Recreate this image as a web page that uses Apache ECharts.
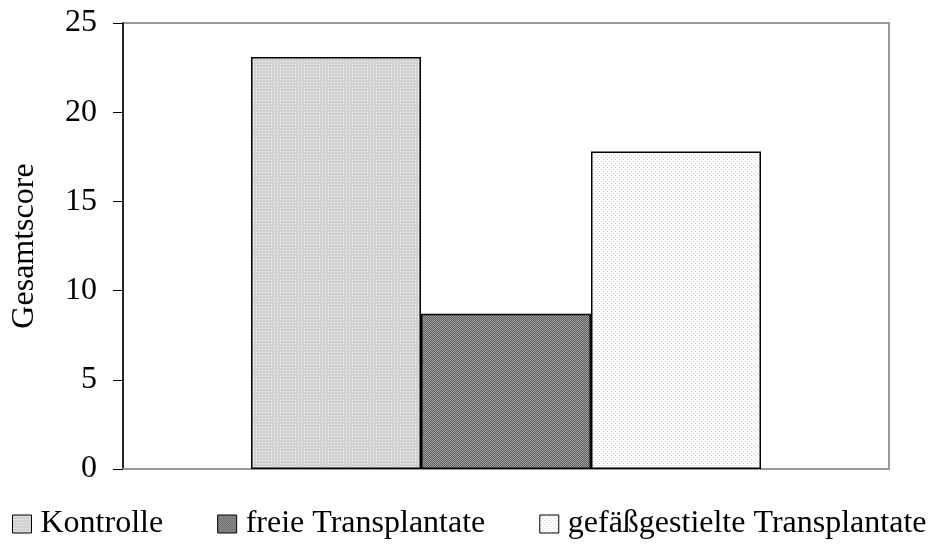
<!DOCTYPE html>
<html>
<head>
<meta charset="utf-8">
<script src="https://cdn.jsdelivr.net/npm/echarts@6/dist/echarts.min.js"></script>
<style>
  html, body { margin: 0; padding: 0; background: #fff; }
  #chart { width: 940px; height: 547px; }
</style>
</head>
<body>
<div id="chart"></div>
<script>
// Chart data
const groups = ['Kontrolle', 'freie Transplantate', 'gefäßgestielte Transplantate'];
const scores = [23.1, 8.7, 17.8];
const yTicks = [0, 5, 10, 15, 20, 25];
const yAxisTitle = 'Gesamtscore';

// Small tiled fills for the bars (dotted / checkered raster)
function makeTile(size, bg, fg, cells) {
  const c = document.createElement('canvas');
  c.width = size; c.height = size;
  const ctx = c.getContext('2d');
  ctx.fillStyle = bg;
  ctx.fillRect(0, 0, size, size);
  ctx.fillStyle = fg;
  cells.forEach(([x, y]) => ctx.fillRect(x, y, 1, 1));
  return c;
}
const fills = [
  { image: makeTile(3, '#d2d2d2', '#f6f6f6', [[1, 1]]), repeat: 'repeat' },
  { image: makeTile(2, '#5e5e5e', '#a0a0a0', [[0, 0], [1, 1]]), repeat: 'repeat' },
  { image: makeTile(4, '#ffffff', '#d0d0d0', [[1, 1], [3, 3]]), repeat: 'repeat' }
];

const font = '"Liberation Serif", "DejaVu Serif", serif';

const chart = echarts.init(document.getElementById('chart'), null, { renderer: 'canvas' });

const series = groups.map((name, i) => ({
  name: name,
  type: 'bar',
  data: [scores[i]],
  barWidth: 170,
  barGap: '0%',
  itemStyle: { color: fills[i], borderColor: '#000', borderWidth: 1.5 }
}));

chart.setOption({
  animation: false,
  backgroundColor: '#fff',
  textStyle: { fontFamily: font, color: '#000' },
  grid: {
    left: 123, right: 51, top: 23, bottom: 78,
    show: true, borderColor: '#999', borderWidth: 2, backgroundColor: 'transparent'
  },
  legend: {
    bottom: 2,
    left: 7,
    itemWidth: 19,
    itemHeight: 18,
    itemGap: 54,
    icon: 'rect',
    textStyle: { fontFamily: font, fontSize: 32, color: '#000', padding: [0, 0, 0, 4] },
    itemStyle: { borderColor: '#000', borderWidth: 1 },
    data: groups
  },
  xAxis: {
    type: 'category',
    data: [''],
    axisLine: { show: true, lineStyle: { color: '#999', width: 2 } },
    axisTick: { show: false },
    axisLabel: { show: false },
    splitLine: { show: false }
  },
  yAxis: {
    type: 'value',
    min: yTicks[0],
    max: yTicks[yTicks.length - 1],
    interval: 5,
    name: yAxisTitle,
    nameLocation: 'middle',
    nameGap: 82,
    nameTextStyle: { fontFamily: font, fontSize: 32, color: '#000' },
    axisLine: { show: true, lineStyle: { color: '#000', width: 1.5 } },
    axisTick: { show: true, inside: false, length: 10, lineStyle: { color: '#000', width: 1 } },
    axisLabel: { fontFamily: font, fontSize: 32, color: '#000', margin: 26 },
    splitLine: { show: false }
  },
  series: series
});
</script>
</body>
</html>
